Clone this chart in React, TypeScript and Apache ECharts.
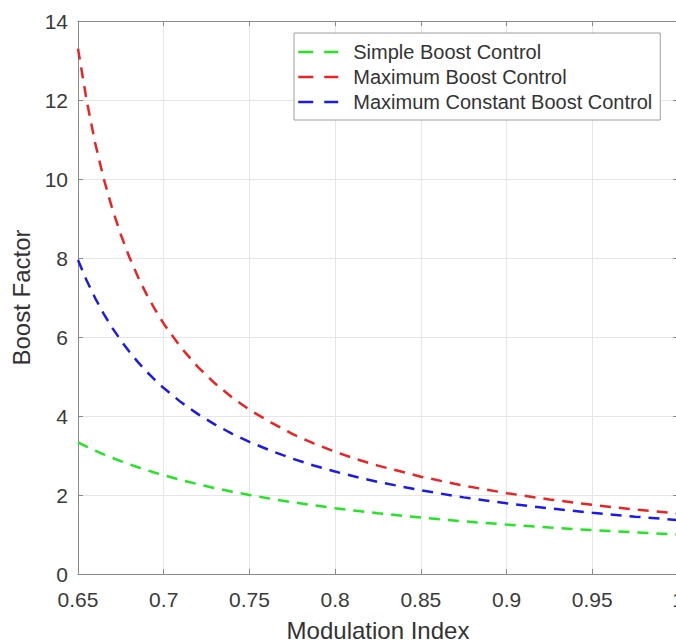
import React, { useEffect, useRef } from "react";
import * as echarts from "echarts";

const modulationIndex = [0.65, 0.655, 0.66, 0.665, 0.67, 0.675, 0.68, 0.685, 0.69, 0.695, 0.7, 0.71, 0.72, 0.73, 0.74, 0.75, 0.7625, 0.775, 0.7875, 0.8, 0.8125, 0.825, 0.85, 0.875, 0.9, 0.925, 0.95, 0.975, 1.0];
const simpleBoost = [3.333, 3.226, 3.125, 3.03, 2.941, 2.857, 2.778, 2.703, 2.632, 2.564, 2.5, 2.381, 2.273, 2.174, 2.083, 2.0, 1.905, 1.818, 1.739, 1.667, 1.6, 1.538, 1.429, 1.333, 1.25, 1.176, 1.111, 1.053, 1.0];
const maximumBoost = [13.3, 12.0, 10.91, 10.01, 9.245, 8.588, 8.019, 7.52, 7.08, 6.69, 6.337, 5.736, 5.239, 4.821, 4.465, 4.158, 3.836, 3.548, 3.306, 3.094, 2.907, 2.743, 2.464, 2.236, 2.047, 1.887, 1.75, 1.632, 1.529];
const maximumConstantBoost = [7.947, 7.436, 6.986, 6.587, 6.232, 5.913, 5.625, 5.363, 5.125, 4.907, 4.707, 4.352, 4.047, 3.782, 3.55, 3.345, 3.121, 2.921, 2.747, 2.593, 2.455, 2.332, 2.118, 1.94, 1.789, 1.661, 1.549, 1.452, 1.366];
const seriesNames = ["Simple Boost Control", "Maximum Boost Control", "Maximum Constant Boost Control"];
const seriesColors = ["#22e622", "#ee2222", "#1a1aee"];

const FONT = "'Liberation Sans', Arial, sans-serif";

export default function App() {
  const ref = useRef<HTMLDivElement>(null);
  useEffect(() => {
    document.body.style.margin = "0";
    const chart = echarts.init(ref.current!, null, { renderer: "svg" });
    const allData = [simpleBoost, maximumBoost, maximumConstantBoost];
    const axisLineColor = "#8a8a8a";
    chart.setOption({
      animation: false,
      backgroundColor: "#ffffff",
      textStyle: { fontFamily: FONT },
      grid: { left: 78, top: 21, right: -2, bottom: 70, outerBoundsMode: "none", containLabel: false },
      legend: {
        orient: "vertical",
        left: 294,
        top: 33,
        backgroundColor: "#ffffff",
        borderColor: "#a0a0a0",
        borderWidth: 1,
        padding: [9, 8, 8, 3],
        itemWidth: 40,
        itemHeight: 14,
        itemGap: 5,
        data: seriesNames,
        itemStyle: { opacity: 0, borderWidth: 0 },
        lineStyle: { width: 2.5, type: [15, 11] },
        textStyle: { fontSize: 20, color: "#333333", fontFamily: FONT, lineHeight: 18, padding: [0, 0, 0, 10] },
      },
      xAxis: [
        {
          type: "value",
          min: 0.65,
          max: 1,
          interval: 0.05,
          name: "Modulation Index",
          nameLocation: "middle",
          nameGap: 44,
          nameTextStyle: { fontSize: 24, color: "#333333", fontFamily: FONT },
          axisLine: { show: true, onZero: false, lineStyle: { color: axisLineColor, width: 1 } },
          axisTick: { show: true, inside: true, length: 5, lineStyle: { color: axisLineColor } },
          axisLabel: { fontSize: 21, color: "#3a3a3a", margin: 15, fontFamily: FONT, showMaxLabel: true, showMinLabel: true },
          splitLine: { show: true, lineStyle: { color: "#e6e6e6", width: 1 } },
        },
        {
          type: "value",
          position: "top",
          min: 0.65,
          max: 1,
          interval: 0.05,
          axisLine: { show: true, onZero: false, lineStyle: { color: axisLineColor, width: 1 } },
          axisTick: { show: true, inside: true, length: 5, lineStyle: { color: axisLineColor } },
          axisLabel: { show: false },
          splitLine: { show: false },
        },
      ],
      yAxis: [
        {
          type: "value",
          min: 0,
          max: 14,
          interval: 2,
          name: "Boost Factor",
          nameLocation: "middle",
          nameGap: 41,
          nameTextStyle: { fontSize: 24, color: "#333333", fontFamily: FONT },
          axisLine: { show: true, onZero: false, lineStyle: { color: axisLineColor, width: 1 } },
          axisTick: { show: true, inside: true, length: 5, lineStyle: { color: axisLineColor } },
          axisLabel: { fontSize: 21, color: "#3a3a3a", margin: 10, fontFamily: FONT },
          splitLine: { show: true, lineStyle: { color: "#e6e6e6", width: 1 } },
        },
        {
          type: "value",
          position: "right",
          min: 0,
          max: 14,
          interval: 2,
          axisLine: { show: true, onZero: false, lineStyle: { color: axisLineColor, width: 1 } },
          axisTick: { show: true, inside: true, length: 5, lineStyle: { color: axisLineColor } },
          axisLabel: { show: false },
          splitLine: { show: false },
        },
      ],
      series: seriesNames.map((name, i) => ({
        name,
        type: "line",
        xAxisIndex: 0,
        yAxisIndex: 0,
        showSymbol: false,
        symbol: "none",
        smooth: false,
        color: seriesColors[i],
        lineStyle: { color: seriesColors[i], width: 2.5, type: [11, 8] },
        data: modulationIndex.map((m, j) => [m, allData[i][j]]),
      })),
    });
    return () => chart.dispose();
  }, []);
  return <div ref={ref} style={{ width: 676, height: 644 }} />;
}
